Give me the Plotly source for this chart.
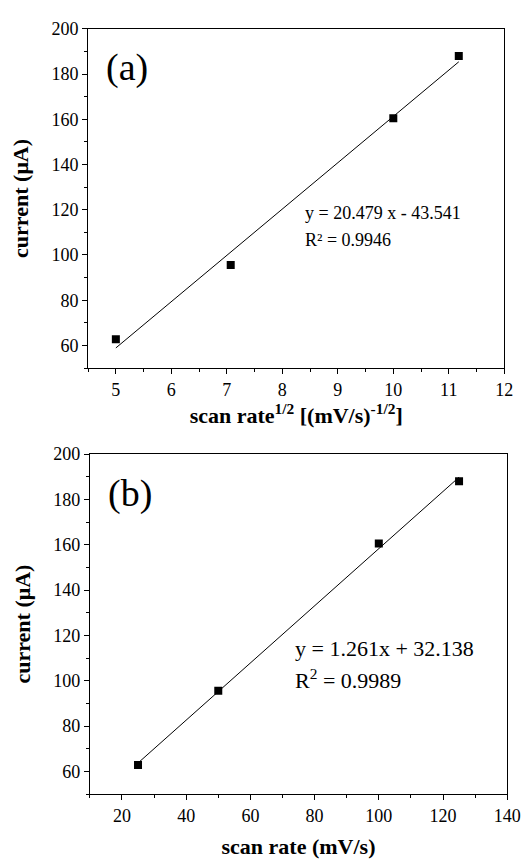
import plotly.graph_objects as go

# Panel (a): current vs sqrt(scan rate)
a_x = [5.0, 7.07, 10.0, 11.18]
a_y = [62.8, 95.6, 160.5, 188.0]
a_fit_x = [5.0, 11.18]
a_fit_y = [58.9, 185.4]

# Panel (b): current vs scan rate
b_x = [25, 50, 100, 125]
b_y = [62.8, 95.6, 160.5, 188.0]
b_fit_x = [25, 125]
b_fit_y = [63.7, 189.8]

a_xticks = [5, 6, 7, 8, 9, 10, 11, 12]
b_xticks = [20, 40, 60, 80, 100, 120, 140]
yticks = [60, 80, 100, 120, 140, 160, 180, 200]

FONT = "Liberation Serif"
W, H = 529, 859

fig = go.Figure()
fig.add_trace(go.Scatter(x=a_fit_x, y=a_fit_y, mode="lines", line=dict(color="black", width=1),
                         xaxis="x", yaxis="y", showlegend=False))
fig.add_trace(go.Scatter(x=a_x, y=a_y, mode="markers", marker=dict(symbol="square", size=8, color="black"),
                         xaxis="x", yaxis="y", showlegend=False))
fig.add_trace(go.Scatter(x=b_fit_x, y=b_fit_y, mode="lines", line=dict(color="black", width=1),
                         xaxis="x2", yaxis="y2", showlegend=False))
fig.add_trace(go.Scatter(x=b_x, y=b_y, mode="markers", marker=dict(symbol="square", size=8, color="black"),
                         xaxis="x2", yaxis="y2", showlegend=False))

common = dict(showline=True, linecolor="black", linewidth=1, mirror=True, ticks="outside",
              ticklen=5, tickwidth=1, tickcolor="black", showgrid=False, zeroline=False,
              tickfont=dict(family=FONT, size=18, color="black"),
              minor=dict(ticks="outside", ticklen=3, tickwidth=1, tickcolor="black", showgrid=False))
title_font = dict(family=FONT, size=22, color="black")

fig.update_layout(
    width=W, height=H, margin=dict(l=0, r=0, t=0, b=0),
    paper_bgcolor="white", plot_bgcolor="white",
    xaxis=dict(domain=[90.5 / W, 518 / W], anchor="y", range=[4.5, 12], tickvals=a_xticks,
               minor_dtick=0.5,
               title=dict(text="<b>scan rate<sup>1/2</sup> [(mV/s)<sup>-1/2</sup>]</b>", font=title_font, standoff=6),
               **common),
    yaxis=dict(domain=[1 - 362.3 / H, 1 - 19 / H], anchor="x", range=[50, 200], tickvals=yticks,
               minor_dtick=10,
               title=dict(text="<b>current (μA)</b>", font=title_font, standoff=16),
               **common),
    xaxis2=dict(domain=[92.3 / W, 521 / W], anchor="y2", range=[10, 140], tickvals=b_xticks,
                minor_dtick=10,
                title=dict(text="<b>scan rate (mV/s)</b>", font=title_font, standoff=18),
                **common),
    yaxis2=dict(domain=[1 - 793.3 / H, 1 - 449.3 / H], anchor="x2", range=[50, 200], tickvals=yticks,
                minor_dtick=10,
                title=dict(text="<b>current (μA)</b>", font=title_font, standoff=16),
                **common),
)

def note(text, x, y, xr, yr, size, xanchor="left"):
    fig.add_annotation(text=text, x=x, y=y, xref=xr, yref=yr, xanchor=xanchor, yanchor="middle",
                       align="left", showarrow=False, font=dict(family=FONT, size=size, color="black"))

note("(a)", 0.039, 0.885, "x domain", "y domain", 38)
note("y = 20.479 x - 43.541", 0.517, 0.458, "x domain", "y domain", 18)
note("R² = 0.9946", 0.517, 0.377, "x domain", "y domain", 18)
note("(b)", 0.039, 0.883, "x2 domain", "y2 domain", 38)
note("y = 1.261x + 32.138", 0.487, 0.428, "x2 domain", "y2 domain", 22)
note("R<sup>2</sup> = 0.9989", 0.487, 0.338, "x2 domain", "y2 domain", 22)

fig.write_html("out.html")
